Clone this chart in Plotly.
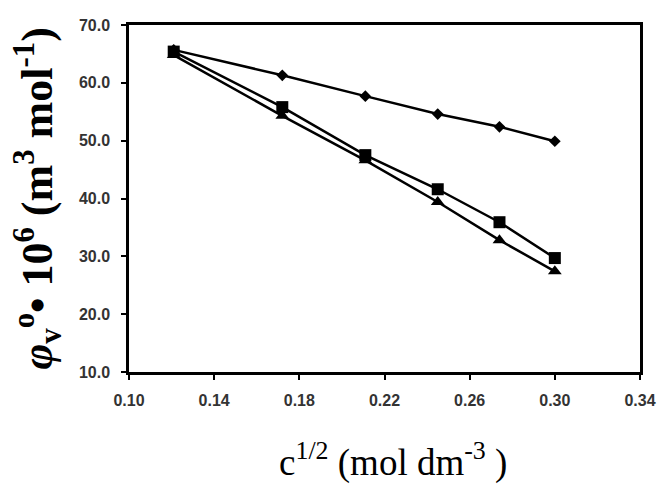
import plotly.graph_objects as go

x_vals = [0.121, 0.172, 0.211, 0.245, 0.274, 0.300]
diamond_vals = [65.7, 61.3, 57.7, 54.6, 52.4, 49.9]
square_vals = [65.4, 55.8, 47.5, 41.6, 35.9, 29.7]
triangle_vals = [64.8, 54.3, 46.6, 39.4, 32.8, 27.4]

x_ticks = [0.10, 0.14, 0.18, 0.22, 0.26, 0.30, 0.34]
y_ticks = [10.0, 20.0, 30.0, 40.0, 50.0, 60.0, 70.0]

fig = go.Figure()
fig.add_trace(go.Scatter(x=x_vals, y=diamond_vals, mode="lines+markers",
                         line=dict(color="black", width=2.5),
                         marker=dict(symbol="diamond", size=9, color="black")))
fig.add_trace(go.Scatter(x=x_vals, y=square_vals, mode="lines+markers",
                         line=dict(color="black", width=2.5),
                         marker=dict(symbol="square", size=12, color="black")))
fig.add_trace(go.Scatter(x=x_vals, y=triangle_vals, mode="lines+markers",
                         line=dict(color="black", width=2.5),
                         marker=dict(symbol="triangle-up", size=12, color="black")))

tickfont = dict(family="Liberation Sans, Arial", size=16, color="#333333", weight="bold")

fig.update_layout(
    width=668, height=496,
    margin=dict(l=129, r=22, t=25, b=124),
    paper_bgcolor="white", plot_bgcolor="white",
    showlegend=False,
    xaxis=dict(range=[0.10, 0.34], tickvals=x_ticks, tickformat=".2f",
               showgrid=False, zeroline=False, showline=True, linecolor="black",
               linewidth=2.5, mirror=True, ticks="outside", ticklen=5,
               tickcolor="black", tickwidth=1.5, tickfont=tickfont,
               ticklabelstandoff=7),
    yaxis=dict(range=[10, 70], tickvals=y_ticks, tickformat=".1f",
               showgrid=False, zeroline=False, showline=True, linecolor="black",
               linewidth=2.5, mirror=True, ticks="outside", ticklen=5,
               tickcolor="black", tickwidth=1.5, tickfont=tickfont,
               ticklabelstandoff=8),
)

fig.add_annotation(
    text="c<sup>1/2</sup> (mol dm<sup>-3</sup> )",
    xref="paper", yref="paper", x=0.5, y=0, xanchor="center", yanchor="middle",
    xshift=8, yshift=-88, showarrow=False,
    font=dict(family="Liberation Serif, Times New Roman", size=37, color="black"),
)

fig.add_annotation(
    text="<i>φ</i><sub>v</sub><sup>o</sup>• 10<sup>6</sup> (m<sup>3</sup> mol<sup>-1</sup>)",
    xref="paper", yref="paper", x=0, y=0.5, xanchor="center", yanchor="middle",
    xshift=-92, yshift=0, textangle=-90, showarrow=False,
    font=dict(family="Liberation Serif, Times New Roman", size=44, color="black", weight="bold"),
)

fig.write_html("out.html")
